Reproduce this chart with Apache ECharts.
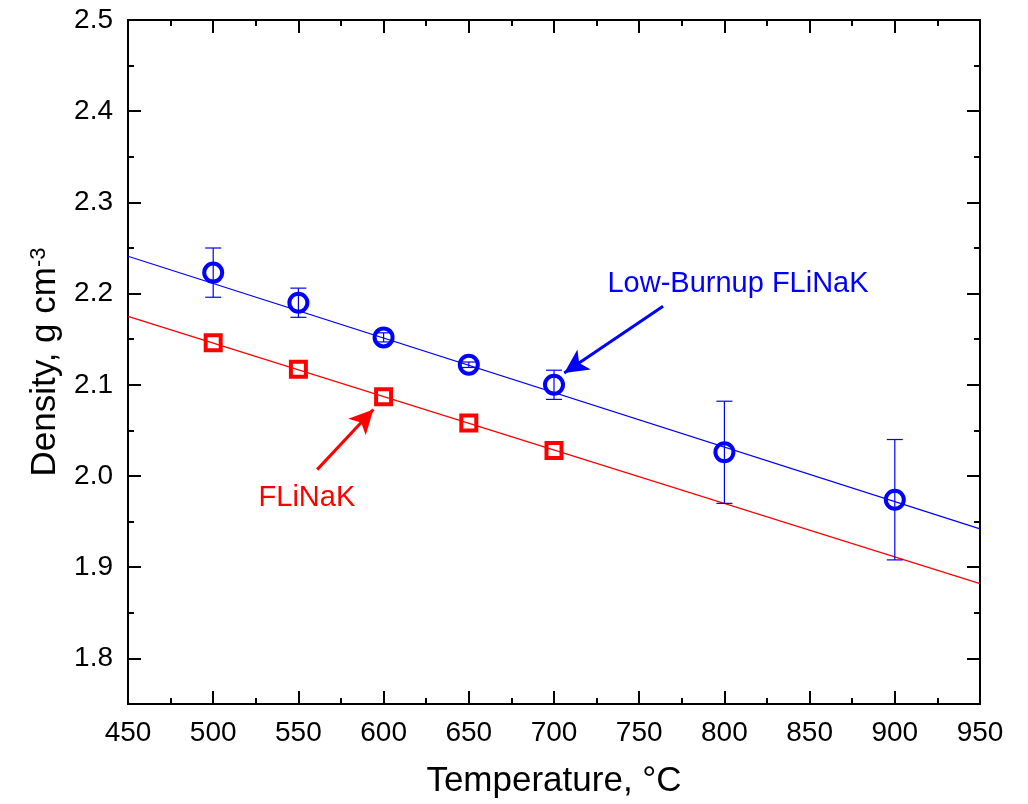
<!DOCTYPE html>
<html>
<head>
<meta charset="utf-8">
<script src="https://cdn.jsdelivr.net/npm/echarts@6/dist/echarts.min.js"></script>
<style>
  html, body { margin: 0; padding: 0; background: #fff; }
  #chart { width: 1028px; height: 804px; }
</style>
</head>
<body>
<div id="chart"></div>
<script>
// Measured temperatures (°C)
const tempBlue = [500, 550, 600, 650, 700, 800, 900];
const tempRed = [500, 550, 600, 650, 700];

// Low-Burnup FLiNaK density and error
const densBlue = [2.223, 2.190, 2.152, 2.122, 2.100, 2.026, 1.974];
const errBlue = [0.027, 0.016, 0.005, 0.003, 0.016, 0.056, 0.066];

// FLiNaK density
const densRed = [2.146, 2.117, 2.087, 2.058, 2.028];

// Linear fits (end points)
const fitTemp = [450, 950];
const fitBlue = [2.241, 1.942];
const fitRed = [2.175, 1.882];

// y axis ticks
const yMajor = [1.8, 1.9, 2.0, 2.1, 2.2, 2.3, 2.4, 2.5];
const yMinor = [1.75, 1.85, 1.95, 2.05, 2.15, 2.25, 2.35, 2.45];

const font = 'Liberation Sans, Arial, sans-serif';
const chart = echarts.init(document.getElementById('chart'));

const xBase = {
    type: 'value',
    min: 450,
    max: 950,
    interval: 50,
    axisLine: { show: true, onZero: false, lineStyle: { color: '#000', width: 2 } },
    axisTick: { show: true, inside: true, length: 13, lineStyle: { color: '#000', width: 2 } },
    minorTick: { show: true, splitNumber: 2, length: 6, lineStyle: { color: '#000', width: 2 } },
    splitLine: { show: false },
    minorSplitLine: { show: false }
};

const yBase = {
    type: 'value',
    min: 1.75,
    max: 2.5,
    axisLine: { show: true, onZero: false, lineStyle: { color: '#000', width: 2 } },
    splitLine: { show: false }
};

function yAxisFor(position, ticks, len, withLabels) {
    return Object.assign({}, yBase, {
        position: position,
        axisTick: { show: true, inside: true, length: len, customValues: ticks, lineStyle: { color: '#000', width: 2 } },
        axisLabel: withLabels
            ? { show: true, customValues: ticks, margin: 15, color: '#000', fontFamily: font, fontSize: 28,
                formatter: v => v.toFixed(1) }
            : { show: false }
    });
}

const leftMain = yAxisFor('left', yMajor, 13, true);
leftMain.name = '{a|Density, g cm}{b|-3}';
leftMain.nameLocation = 'middle';
leftMain.nameRotate = 90;
leftMain.nameGap = 64;
leftMain.nameTextStyle = {
    rich: {
        a: { fontFamily: font, fontSize: 35, color: '#000' },
        b: { fontFamily: font, fontSize: 22, color: '#000', verticalAlign: 'top', padding: [0, 0, 14, 0] }
    }
};

function errorBars(xs, ys, errs) {
    return xs.map((x, i) => [x, ys[i] - errs[i], ys[i] + errs[i]]);
}

const option = {
    animation: false,
    backgroundColor: '#fff',
    grid: { left: 128, right: 48, top: 20, bottom: 99 },
    xAxis: [
        Object.assign({}, xBase, {
            position: 'bottom',
            axisLabel: { show: true, margin: 15, color: '#000', fontFamily: font, fontSize: 28 },
            name: 'Temperature, °C',
            nameLocation: 'middle',
            nameGap: 60,
            nameTextStyle: { fontFamily: font, fontSize: 35, color: '#000' }
        }),
        Object.assign({}, xBase, { position: 'top', axisLabel: { show: false } })
    ],
    yAxis: [
        leftMain,
        yAxisFor('left', yMinor, 6, false),
        yAxisFor('right', yMajor, 13, false),
        yAxisFor('right', yMinor, 6, false)
    ],
    series: [
        {
            name: 'Low-Burnup fit',
            type: 'line',
            data: fitTemp.map((t, i) => [t, fitBlue[i]]),
            showSymbol: false,
            symbol: 'none',
            lineStyle: { color: '#0000ff', width: 1.2 },
            silent: true,
            z: 1,
            markLine: {
                silent: true,
                symbol: ['none', 'arrow'],
                symbolSize: [18, 24],
                label: { show: false },
                lineStyle: { color: '#0000ff', width: 3, type: 'solid' },
                data: [[{ coord: [764, 2.186] }, { coord: [706, 2.113] }]]
            }
        },
        {
            name: 'FLiNaK fit',
            type: 'line',
            data: fitTemp.map((t, i) => [t, fitRed[i]]),
            showSymbol: false,
            symbol: 'none',
            lineStyle: { color: '#ff0000', width: 1.2 },
            silent: true,
            z: 1,
            markLine: {
                silent: true,
                symbol: ['none', 'arrow'],
                symbolSize: [18, 24],
                label: { show: false },
                lineStyle: { color: '#ff0000', width: 3, type: 'solid' },
                data: [[{ coord: [561, 2.007] }, { coord: [594, 2.073] }]]
            }
        },
        {
            name: 'Error bars',
            type: 'custom',
            z: 2,
            data: errorBars(tempBlue, densBlue, errBlue),
            renderItem: function (params, api) {
                const x = api.value(0);
                const lo = api.coord([x, api.value(1)]);
                const hi = api.coord([x, api.value(2)]);
                const half = 8;
                const style = { stroke: '#0000ff', lineWidth: 1.2 };
                return {
                    type: 'group',
                    children: [
                        { type: 'line', shape: { x1: lo[0], y1: lo[1], x2: hi[0], y2: hi[1] }, style: style },
                        { type: 'line', shape: { x1: lo[0] - half, y1: lo[1], x2: lo[0] + half, y2: lo[1] }, style: style },
                        { type: 'line', shape: { x1: hi[0] - half, y1: hi[1], x2: hi[0] + half, y2: hi[1] }, style: style }
                    ]
                };
            }
        },
        {
            name: 'Low-Burnup FLiNaK',
            type: 'scatter',
            z: 3,
            data: tempBlue.map((t, i) => [t, densBlue[i]]),
            symbol: 'circle',
            symbolSize: 18,
            itemStyle: { color: 'transparent', borderColor: '#0000ff', borderWidth: 4, opacity: 1 }
        },
        {
            name: 'FLiNaK',
            type: 'scatter',
            z: 3,
            data: tempRed.map((t, i) => [t, densRed[i]]),
            symbol: 'rect',
            symbolSize: 15,
            itemStyle: { color: 'transparent', borderColor: '#ff0000', borderWidth: 4, opacity: 1 }
        },
        {
            name: 'labels',
            type: 'scatter',
            z: 4,
            silent: true,
            symbolSize: 0,
            itemStyle: { opacity: 1 },
            data: [
                { value: [808, 2.211], label: { formatter: 'Low-Burnup FLiNaK', color: '#0000ff' } },
                { value: [555, 1.976], label: { formatter: 'FLiNaK', color: '#ff0000' } }
            ],
            label: { show: true, position: 'inside', fontFamily: font, fontSize: 29 }
        }
    ]
};

chart.setOption(option);
</script>
</body>
</html>
